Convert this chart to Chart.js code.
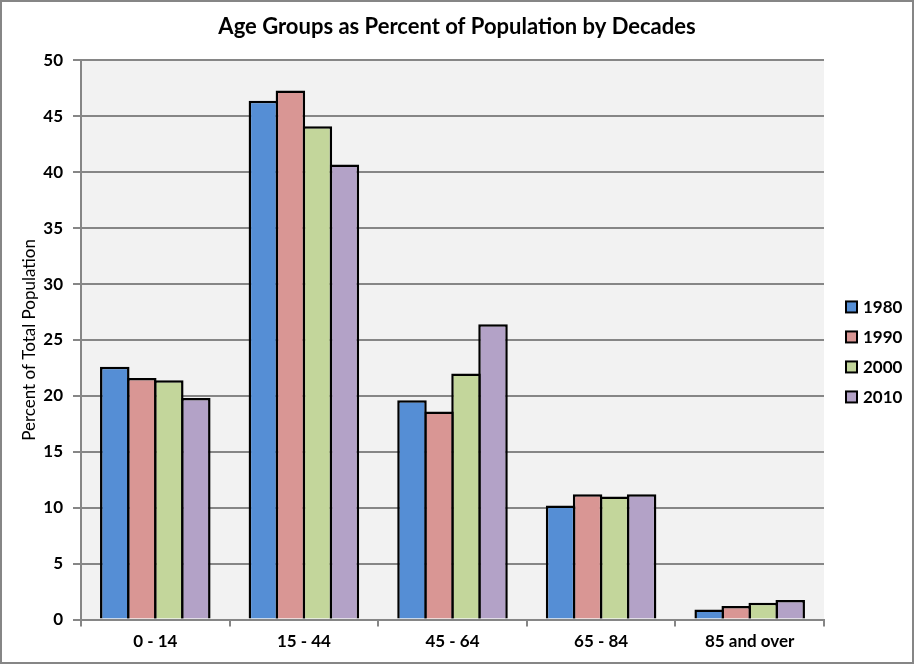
<!DOCTYPE html>
<html>
<head>
<meta charset="utf-8">
<script src="https://cdn.jsdelivr.net/npm/chart.js@4.4.1/dist/chart.umd.min.js"></script>
<style>
  html, body { margin: 0; padding: 0; background: #fff; }
  #wrap { width: 914px; height: 664px; }
</style>
</head>
<body>
<div id="wrap"><canvas id="c" width="914" height="664"></canvas></div>
<script>
const categories = ['0 - 14', '15 - 44', '45 - 64', '65 - 84', '85 and over'];
const seriesNames = ['1980', '1990', '2000', '2010'];
const values1980 = [22.6, 46.4, 19.6, 10.2, 0.9];
const values1990 = [21.6, 47.3, 18.6, 11.2, 1.2];
const values2000 = [21.4, 44.1, 22.0, 11.0, 1.5];
const values2010 = [19.8, 40.7, 26.4, 11.2, 1.75];
const seriesColors = ['#558ED5', '#D99694', '#C3D69B', '#B3A2C7'];
const yMin = 0, yMax = 50, yStep = 5;

const FONT = 'Lato, "Open Sans", sans-serif';
const GRID = '#868686';

const allValues = [values1980, values1990, values2000, values2010];

const bgPlugin = {
  id: 'bg',
  beforeDraw(chart) {
    const ctx = chart.ctx, a = chart.chartArea;
    ctx.save();
    ctx.fillStyle = '#ffffff';
    ctx.fillRect(0, 0, chart.width, chart.height);
    ctx.fillStyle = '#F2F2F2';
    ctx.fillRect(a.left, a.top, a.right - a.left, a.bottom - a.top);
    ctx.restore();
  },
  afterDraw(chart) {
    const ctx = chart.ctx;
    ctx.save();
    ctx.strokeStyle = GRID;
    ctx.lineWidth = 2;
    ctx.strokeRect(1, 1, chart.width - 2, chart.height - 2);
    // legend
    const a = chart.chartArea;
    const ds = chart.data.datasets;
    const gap = 30;
    const startY = (a.top + a.bottom) / 2 + 12 - gap * (ds.length - 1) / 2;
    ctx.font = 'bold 17px ' + FONT;
    ctx.textBaseline = 'middle';
    ctx.textAlign = 'left';
    ds.forEach((d, i) => {
      const cy = startY + i * gap;
      const bx = a.right + 22;
      ctx.fillStyle = d.backgroundColor;
      ctx.fillRect(bx, cy - 5.5, 11, 11);
      ctx.strokeStyle = '#000';
      ctx.lineWidth = 2;
      ctx.strokeRect(bx, cy - 5.5, 11, 11);
      ctx.fillStyle = '#000';
      ctx.fillText(d.label, bx + 17, cy + 1);
    });
    ctx.restore();
  }
};

new Chart(document.getElementById('c'), {
  type: 'bar',
  data: {
    labels: categories,
    datasets: seriesNames.map((name, i) => ({
      label: name,
      data: allValues[i],
      backgroundColor: seriesColors[i],
      borderColor: '#000000',
      borderWidth: 2.5,
      categoryPercentage: 0.727,
      barPercentage: 1.093,
      yAxisID: 'y'
    }))
  },
  options: {
    responsive: false,
    animation: false,
    devicePixelRatio: 1,
    layout: { padding: { left: 0, right: 0, top: 0, bottom: 0 } },
    plugins: {
      legend: { display: false },
      tooltip: { enabled: false },
      title: {
        display: true,
        text: 'Age Groups as Percent of Population by Decades',
        color: '#000',
        font: { family: FONT, size: 22, weight: 'bold' },
        padding: { top: 14, bottom: 20 }
      }
    },
    scales: {
      x: {
        grid: { drawOnChartArea: false, drawTicks: true, tickLength: 7, color: GRID, lineWidth: 2 },
        border: { color: GRID, width: 2 },
        ticks: { color: '#000', font: { family: FONT, size: 17, weight: 'bold' }, padding: 5 },
        afterFit(scale) { scale.height = 44.5; }
      },
      y: {
        min: yMin, max: yMax,
        ticks: { stepSize: yStep, color: '#000', font: { family: FONT, size: 17, weight: 'bold' }, padding: 10 },
        grid: { color: GRID, lineWidth: 2, tickLength: 8 },
        border: { color: GRID, width: 2 },
        title: {
          display: true,
          text: 'Percent of Total Population',
          color: '#000',
          font: { family: FONT, size: 17 },
          padding: { top: 19, bottom: 4 }
        },
        afterFit(scale) { scale.width = 81; }
      },
      yRight: {
        position: 'right',
        display: true,
        grid: { display: false },
        border: { display: false },
        ticks: { display: false },
        afterFit(scale) { scale.width = 90; }
      }
    }
  },
  plugins: [bgPlugin]
});
</script>
</body>
</html>
